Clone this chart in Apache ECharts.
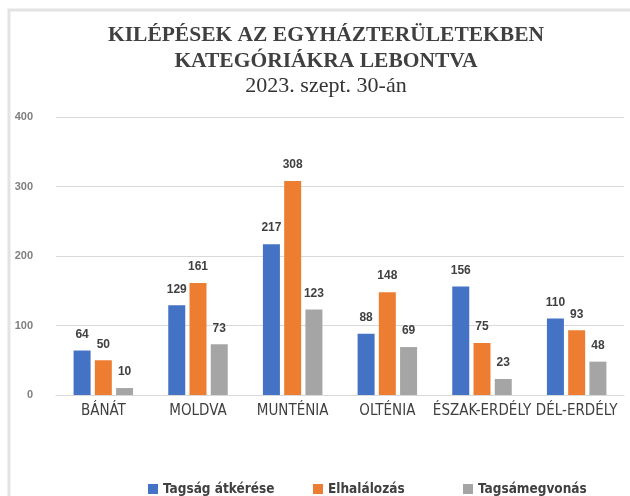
<!DOCTYPE html>
<html>
<head>
<meta charset="UTF-8">
<title>Kilépések</title>
<script type="text/javascript" src="https://cdn.jsdelivr.net/npm/echarts@6/dist/echarts.min.js"></script>
<style>
  html,body{margin:0;padding:0;background:#fff}
</style>
</head>
<body>
<div id="main" style="width:630px;height:496px"></div>
<script type="text/javascript">
// adatok
var regiok = ['BÁNÁT', 'MOLDVA', 'MUNTÉNIA', 'OLTÉNIA', 'ÉSZAK-ERDÉLY', 'DÉL-ERDÉLY'];
var atkeres = [64, 129, 217, 88, 156, 110];
var elhalalozas = [50, 161, 308, 148, 75, 93];
var megvonas = [10, 73, 123, 69, 23, 48];
var sorozatok = ['Tagság átkérése', 'Elhalálozás', 'Tagsámegvonás'];
var yTicks = [0, 100, 200, 300, 400];

var narrow = "'DejaVu Sans Condensed', 'Liberation Sans Narrow', sans-serif";

var myChart = echarts.init(document.getElementById('main'));

var labelStyle = {
    show: true,
    position: 'top',
    distance: 10,
    color: '#404040',
    fontFamily: 'Liberation Sans',
    fontWeight: 'bold',
    fontSize: 12
};

// egy jelmagyarazat elemenkent, hogy a helyuk pontosan beallithato legyen
var legendLeft = [143, 308, 458];
var legends = sorozatok.map(function (nev, i) {
    return {
        left: legendLeft[i],
        top: 477,
        itemWidth: 10,
        itemHeight: 10,
        icon: 'rect',
        textStyle: {
            fontFamily: narrow,
            fontWeight: 'bold',
            fontSize: 13.5,
            color: '#404040'
        },
        data: [nev]
    };
});

var option = {
    backgroundColor: '#fff',
    animation: false,
    title: [
        {
            text: 'KILÉPÉSEK AZ EGYHÁZTERÜLETEKBEN\nKATEGÓRIÁKRA LEBONTVA',
            left: 321,
            textAlign: 'center',
            top: 17,
            textStyle: {
                fontFamily: 'Liberation Serif',
                fontWeight: 'bold',
                fontSize: 21.5,
                lineHeight: 26,
                color: '#404040'
            }
        },
        {
            text: '2023. szept. 30-án',
            left: 321,
            textAlign: 'center',
            top: 70,
            textStyle: {
                fontFamily: 'Liberation Serif',
                fontWeight: 'normal',
                fontSize: 22,
                color: '#333'
            }
        }
    ],
    legend: legends,
    grid: {
        left: 56,
        right: 6,
        top: 117,
        bottom: 101,
        containLabel: false
    },
    xAxis: {
        type: 'category',
        data: regiok,
        axisLine: {lineStyle: {color: '#d9d9d9'}},
        axisTick: {show: false},
        axisLabel: {
            interval: 0,
            margin: 9,
            color: '#404040',
            fontFamily: narrow,
            fontSize: 15
        }
    },
    yAxis: {
        type: 'value',
        min: yTicks[0],
        max: yTicks[yTicks.length - 1],
        interval: 100,
        axisLine: {show: false},
        axisTick: {show: false},
        splitLine: {lineStyle: {color: '#d9d9d9', width: 1}},
        axisLabel: {
            margin: 23,
            color: '#7f7f7f',
            fontFamily: 'Liberation Sans',
            fontWeight: 'bold',
            fontSize: 11
        }
    },
    series: [
        {
            name: sorozatok[0],
            type: 'bar',
            barWidth: 17,
            barGap: '25%',
            itemStyle: {color: '#4472C4'},
            label: labelStyle,
            data: atkeres
        },
        {
            name: sorozatok[1],
            type: 'bar',
            barWidth: 17,
            barGap: '25%',
            itemStyle: {color: '#ED7D31'},
            label: labelStyle,
            data: elhalalozas
        },
        {
            name: sorozatok[2],
            type: 'bar',
            barWidth: 17,
            barGap: '25%',
            itemStyle: {color: '#A5A5A5'},
            label: labelStyle,
            data: megvonas
        }
    ],
    graphic: [
        {
            type: 'rect',
            silent: true,
            z: -1,
            shape: {x: 9, y: 10, width: 640, height: 500},
            style: {fill: 'none', stroke: '#e3e3e3', lineWidth: 3}
        }
    ]
};

myChart.setOption(option);
</script>
</body>
</html>
